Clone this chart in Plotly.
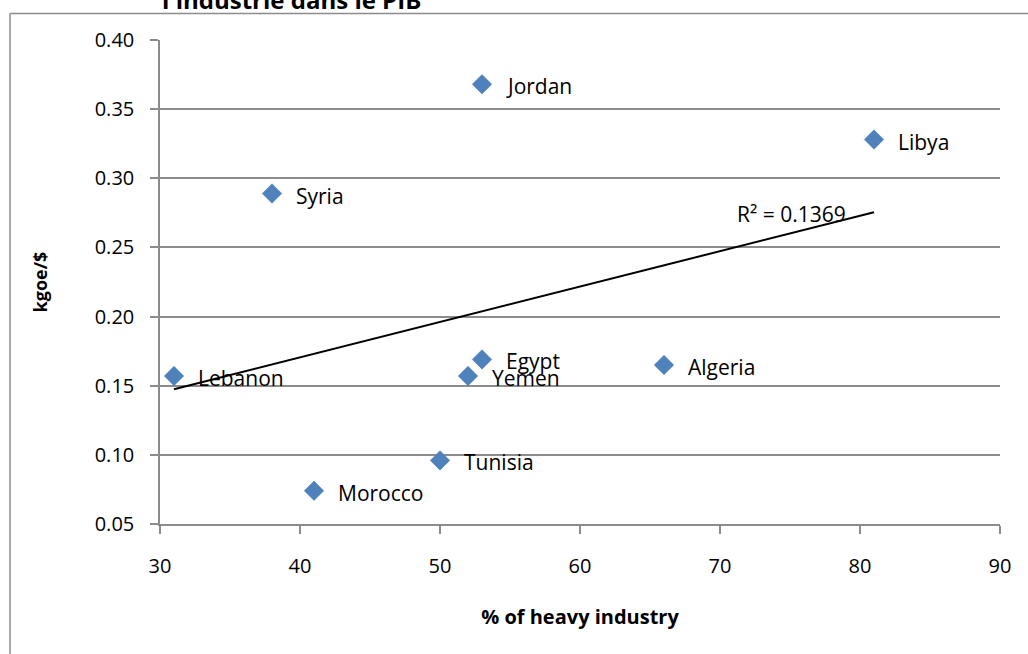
import numpy as np
import plotly.graph_objects as go

# Share of heavy industry (%) vs energy intensity (kgoe per $)
countries = ["Lebanon", "Syria", "Morocco", "Tunisia", "Yemen", "Egypt", "Jordan", "Algeria", "Libya"]
heavy_share = [31, 38, 41, 50, 52, 53, 53, 66, 81]
intensity = [0.157, 0.289, 0.074, 0.096, 0.157, 0.169, 0.368, 0.165, 0.328]

x_ticks = [30, 40, 50, 60, 70, 80, 90]
y_ticks = [0.05, 0.10, 0.15, 0.20, 0.25, 0.30, 0.35, 0.40]

FONT = "Open Sans"
GRID = "#8c8c8c"

# Linear trend over the observed range
slope, intercept = np.polyfit(heavy_share, intensity, 1)
trend_x = [min(heavy_share), max(heavy_share)]
trend_y = [slope * v + intercept for v in trend_x]

fig = go.Figure()
fig.add_trace(go.Scatter(
    x=trend_x, y=trend_y, mode="lines",
    line=dict(color="black", width=2), hoverinfo="skip", showlegend=False,
))
fig.add_trace(go.Scatter(
    x=heavy_share, y=intensity, mode="markers",
    marker=dict(symbol="diamond", size=15, color="#4F81BD",
                line=dict(width=0.5, color="#4A7AB5")),
    showlegend=False,
))

annotations = []
for name, xv, yv in zip(countries, heavy_share, intensity):
    annotations.append(dict(
        x=xv, y=yv, xref="x", yref="y", text=name, showarrow=False,
        xanchor="left", yanchor="middle", xshift=22, yshift=-2,
        font=dict(family=FONT, size=21, color="black"),
    ))

annotations.append(dict(
    x=71.1, y=0.274, xref="x", yref="y", text="R² = 0.1369", showarrow=False,
    xanchor="left", yanchor="middle",
    font=dict(family=FONT, size=21, color="black"),
))

# Chart title, partly above the visible area
annotations.append(dict(
    x=0.0, y=1.0, xref="paper", yref="paper", text="<b>l'industrie dans le PIB</b>",
    showarrow=False, xanchor="left", yanchor="bottom", yshift=22,
    font=dict(family=FONT, size=24, color="black"),
))

fig.update_layout(
    width=1028, height=654,
    margin=dict(l=160, r=28, t=39.5, b=129.5),
    paper_bgcolor="white", plot_bgcolor="white",
    font=dict(family=FONT, size=19, color="black"),
    annotations=annotations,
    shapes=[
        # outer chart frame (top and left edges)
        dict(type="line", xref="paper", yref="paper",
             x0=-150 / 840, x1=1.2, y0=1 + 26.5 / 485, y1=1 + 26.5 / 485,
             line=dict(color=GRID, width=1.5)),
        dict(type="line", xref="paper", yref="paper",
             x0=-150 / 840, x1=-150 / 840, y0=1 + 26.5 / 485, y1=-0.4,
             line=dict(color=GRID, width=1.5)),
    ],
)

fig.update_xaxes(
    range=[30, 90], tickvals=x_ticks, ticktext=[str(v) for v in x_ticks],
    showgrid=False, zeroline=False,
    showline=True, linecolor=GRID, linewidth=1.5,
    ticks="outside", ticklen=8, tickcolor=GRID, tickwidth=1.5,
    ticklabelstandoff=15,
    tickfont=dict(family=FONT, size=20),
    title=dict(text="<b>% of heavy industry</b>", standoff=32,
               font=dict(family=FONT, size=20)),
)
fig.update_yaxes(
    range=[0.05, 0.40], tickvals=y_ticks, ticktext=[f"{v:.2f}" for v in y_ticks],
    showgrid=True, gridcolor=GRID, gridwidth=1.5, zeroline=False,
    showline=True, linecolor=GRID, linewidth=1.5,
    ticks="outside", ticklen=8, tickcolor=GRID, tickwidth=1.5,
    ticklabelstandoff=12,
    tickfont=dict(family=FONT, size=20),
    title=dict(text="<b>kgoe/$</b>", standoff=42,
               font=dict(family=FONT, size=18)),
)

fig.write_html("out.html")
